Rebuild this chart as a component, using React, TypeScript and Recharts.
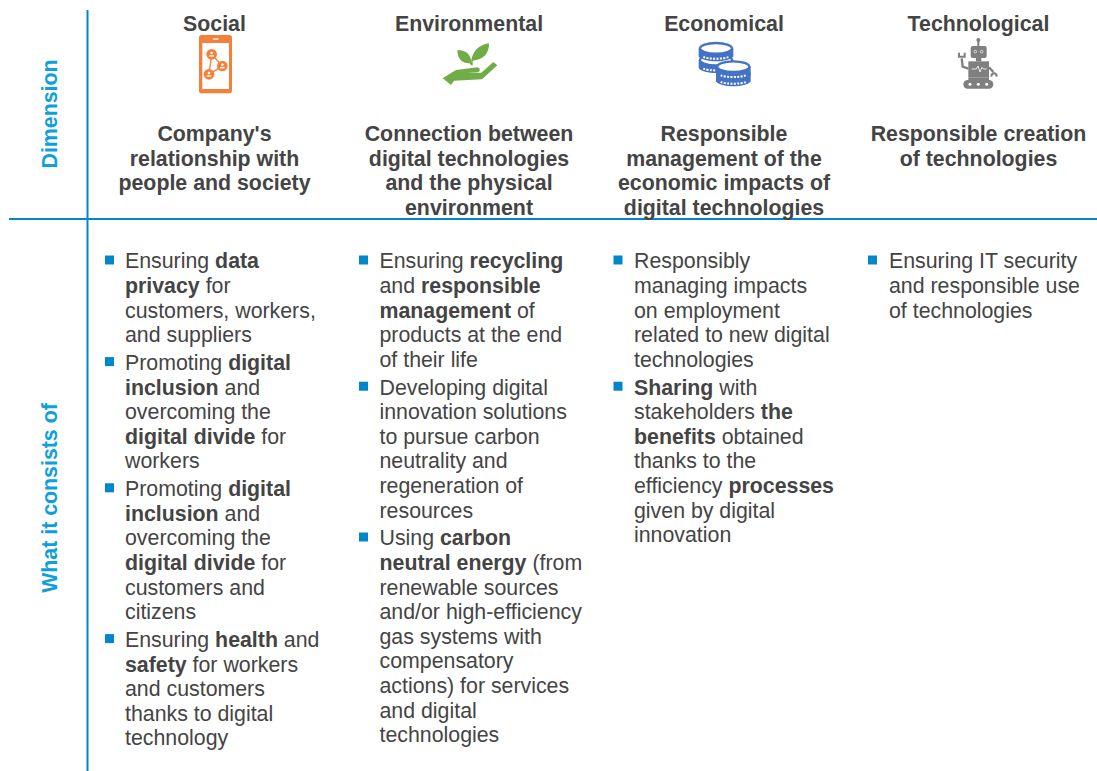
import { ScatterChart, Scatter, XAxis, YAxis, ReferenceLine } from "recharts"

const WIDTH = 1097
const HEIGHT = 771

const dimensions = ["Social", "Environmental", "Economical", "Technological"]

const headlines = [
  ["Company's", "relationship with", "people and society"],
  ["Connection between", "digital technologies", "and the physical", "environment"],
  ["Responsible", "management of the", "economic impacts of", "digital technologies"],
  ["Responsible creation", "of technologies"],
]

// **word** marks the bold runs
const socialItems = [
  ["Ensuring **data**", "**privacy** for", "customers, workers,", "and suppliers"],
  ["Promoting **digital**", "**inclusion** and", "overcoming the", "**digital divide** for", "workers"],
  ["Promoting **digital**", "**inclusion** and", "overcoming the", "**digital divide** for", "customers and", "citizens"],
  ["Ensuring **health** and", "**safety** for workers", "and customers", "thanks to digital", "technology"],
]

const environmentalItems = [
  ["Ensuring **recycling**", "and **responsible**", "**management** of", "products at the end", "of their life"],
  ["Developing digital", "innovation solutions", "to pursue carbon", "neutrality and", "regeneration of", "resources"],
  ["Using **carbon**", "**neutral energy** (from", "renewable sources", "and/or high-efficiency", "gas systems with", "compensatory", "actions) for services", "and digital", "technologies"],
]

const economicalItems = [
  ["Responsibly", "managing impacts", "on employment", "related to new digital", "technologies"],
  ["**Sharing** with", "stakeholders **the**", "**benefits** obtained", "thanks to the", "efficiency **processes**", "given by digital", "innovation"],
]

const technologicalItems = [
  ["Ensuring IT security", "and responsible use", "of technologies"],
]

const columnItems = [socialItems, environmentalItems, economicalItems, technologicalItems]

const sideLabels = ["Dimension", "What it consists of"]

// layout
const centers = [214.5, 469, 724, 978.5]
const textLefts = [125, 379.5, 634, 889]
const bulletLefts = [110.5, 364.5, 619, 873.5]
const sideCenters = [114, 498]
const iconOrigins = [
  { x: 170, y: 10 },
  { x: 170, y: 10 },
  { x: 680, y: 10 },
  { x: 680, y: 10 },
]
const LINE_H = 24.6
const PARA_GAP = 3.2

const textColor = "#444444"
const blue = "#0087CB"
const sideBlue = "#0E9FDC"
const font = "'Liberation Sans', Arial, sans-serif"
const FONT_SIZE = 21.33

const titleRows = dimensions.map((label, i) => ({ x: centers[i], y: 31, label }))
const headlineRows = headlines.flatMap((rows, i) =>
  rows.map((label, r) => ({ x: centers[i], y: 141 + r * 24.6, label }))
)
const sideRows = sideLabels.map((label, i) => ({ x: 50, y: sideCenters[i], label }))
const iconRows = iconOrigins.map((o, i) => ({ ...o, icon: i }))

const bodyRows: { x: number; y: number; label: string }[] = []
const bulletRows: { x: number; y: number }[] = []
columnItems.forEach((items, c) => {
  let y = 268.3
  items.forEach((item) => {
    bulletRows.push({ x: bulletLefts[c], y: y - 7.3 })
    item.forEach((label) => {
      bodyRows.push({ x: textLefts[c], y, label })
      y += LINE_H
    })
    y += PARA_GAP
  })
})

const TitleShape = ({ cx, cy, payload }: any) => (
  <text x={cx} y={cy} textAnchor="middle" fontFamily={font} fontSize={FONT_SIZE} fontWeight="bold" fill={textColor}>
    {payload.label}
  </text>
)

const BodyShape = ({ cx, cy, payload }: any) => (
  <text x={cx} y={cy} fontFamily={font} fontSize={FONT_SIZE} fill={textColor} xmlSpace="preserve">
    {payload.label.split("**").map((run: string, i: number) => (
      <tspan key={i} fontWeight={i % 2 ? "bold" : "normal"}>{run}</tspan>
    ))}
  </text>
)

const SideShape = ({ cx, cy, payload }: any) => (
  <text
    x={cx}
    y={cy}
    transform={`rotate(-90 ${cx} ${cy})`}
    textAnchor="middle"
    dominantBaseline="central"
    fontFamily={font}
    fontSize={FONT_SIZE}
    fontWeight="bold"
    fill={sideBlue}
  >
    {payload.label}
  </text>
)

const BulletShape = ({ cx, cy }: any) => <rect x={cx - 5.5} y={cy - 5.5} width={9} height={9} fill={blue} />

const PhoneIcon = () => {
  const c = "#F4803A"
  return (
    <g>
      <rect x={87} y={75} width={99} height={175} rx={8} fill={c} />
      <rect x={97} y={99} width={80} height={138} fill="#fff" />
      <rect x={129} y={85} width={16} height={4} fill="#fff" />
      <path d="M125 133 L117 193 L157 168 Z" fill="none" stroke={c} strokeWidth={4} />
      {[[125, 133], [157, 168], [117, 193]].map(([x, y]) => (
        <g key={x}>
          <circle cx={x} cy={y} r={16} fill={c} />
          <circle cx={x} cy={y - 4} r={4} fill="#fff" />
          <rect x={x - 7} y={y + 3} width={14} height={4} fill="#fff" />
        </g>
      ))}
    </g>
  )
}

const PlantIcon = () => {
  const c = "#70AD47"
  return (
    <g fill={c}>
      <path d="M905 165 C905 130 885 120 862 120 C862 145 875 160 898 160 Z" />
      <path d="M903 160 C905 125 925 105 957 100 C958 130 940 150 908 152 L908 166 L902 166 Z" />
      <path d="M818 205 L858 180 L922 172 C932 174 932 186 922 187 L890 189 L934 188 L970 156 L982 166 L936 208 L852 212 L843 225 Z" />
    </g>
  )
}

const Coin = ({ x, y }: { x: number; y: number }) => {
  const c = "#4472C4"
  return (
    <g>
      <path d={`M${x - 52} ${y} L${x - 52} ${y + 24} C${x - 40} ${y + 44} ${x + 40} ${y + 44} ${x + 52} ${y + 24} L${x + 52} ${y} Z`} fill={c} />
      <ellipse cx={x} cy={y} rx={48} ry={16} fill="#fff" stroke={c} strokeWidth={7} />
      <path
        d={`M${x - 38} ${y + 26} C${x - 20} ${y + 33} ${x + 20} ${y + 33} ${x + 38} ${y + 26}`}
        fill="none"
        stroke="#fff"
        strokeWidth={6}
        strokeDasharray="6 4"
      />
    </g>
  )
}

const CoinsIcon = () => (
  <g>
    <Coin x={108} y={150} />
    <Coin x={108} y={115} />
    <Coin x={160} y={190} />
    <Coin x={160} y={170} />
  </g>
)

const RobotIcon = () => {
  const c = "#7F7F7F"
  return (
    <g>
      <circle cx={895} cy={90} r={6} fill={c} />
      <rect x={892} y={90} width={6} height={20} fill={c} />
      <rect x={872} y={108} width={48} height={36} rx={6} fill={c} />
      <circle cx={886} cy={125} r={4} fill="none" stroke="#fff" strokeWidth={2} />
      <circle cx={905} cy={125} r={4} fill="none" stroke="#fff" strokeWidth={2} />
      <rect x={888} y={144} width={16} height={10} fill={c} />
      <rect x={865} y={154} width={62} height={48} fill={c} />
      <path d="M875 177 L889 177 L894 168 L900 186 L906 172 L910 177 L920 177" fill="none" stroke="#fff" strokeWidth={2.5} />
      <path d="M865 176 L848 170 L845 145" fill="none" stroke={c} strokeWidth={7} />
      <path d="M837 128 L837 140 L854 140 L854 128" fill="none" stroke={c} strokeWidth={6} />
      <path d="M927 172 L940 186" fill="none" stroke={c} strokeWidth={7} />
      <path d="M934 200 C934 186 950 186 950 200" fill="none" stroke={c} strokeWidth={6} />
      <rect x={865} y={202} width={62} height={8} fill={c} />
      <rect x={850} y={210} width={90} height={26} rx={13} fill={c} />
      {[870, 895, 920].map((x) => (
        <circle key={x} cx={x} cy={223} r={4.5} fill="#fff" />
      ))}
    </g>
  )
}

const icons = [PhoneIcon, PlantIcon, CoinsIcon, RobotIcon]

const IconShape = ({ cx, cy, payload }: any) => {
  const Icon = icons[payload.icon]
  return (
    <g transform={`translate(${cx} ${cy}) scale(${1 / 3})`}>
      <Icon />
    </g>
  )
}

const App = () => {
  return (
    <div style={{ position: "absolute", left: 0, top: 0, width: WIDTH, height: HEIGHT, background: "#fff" }}>
      <ScatterChart width={WIDTH} height={HEIGHT} margin={{ top: 0, right: 0, bottom: 0, left: 0 }}>
        <XAxis type="number" dataKey="x" domain={[0, WIDTH]} hide />
        <YAxis type="number" dataKey="y" domain={[0, HEIGHT]} reversed hide />
        <ReferenceLine segment={[{ x: 87.5, y: 10 }, { x: 87.5, y: HEIGHT }]} stroke={blue} strokeWidth={2} />
        <ReferenceLine segment={[{ x: 9, y: 219 }, { x: WIDTH, y: 219 }]} stroke={blue} strokeWidth={2} />
        <Scatter data={titleRows} shape={TitleShape} isAnimationActive={false} />
        <Scatter data={headlineRows} shape={TitleShape} isAnimationActive={false} />
        <Scatter data={sideRows} shape={SideShape} isAnimationActive={false} />
        <Scatter data={iconRows} shape={IconShape} isAnimationActive={false} />
        <Scatter data={bulletRows} shape={BulletShape} isAnimationActive={false} />
        <Scatter data={bodyRows} shape={BodyShape} isAnimationActive={false} />
      </ScatterChart>
    </div>
  )
}

export default App
